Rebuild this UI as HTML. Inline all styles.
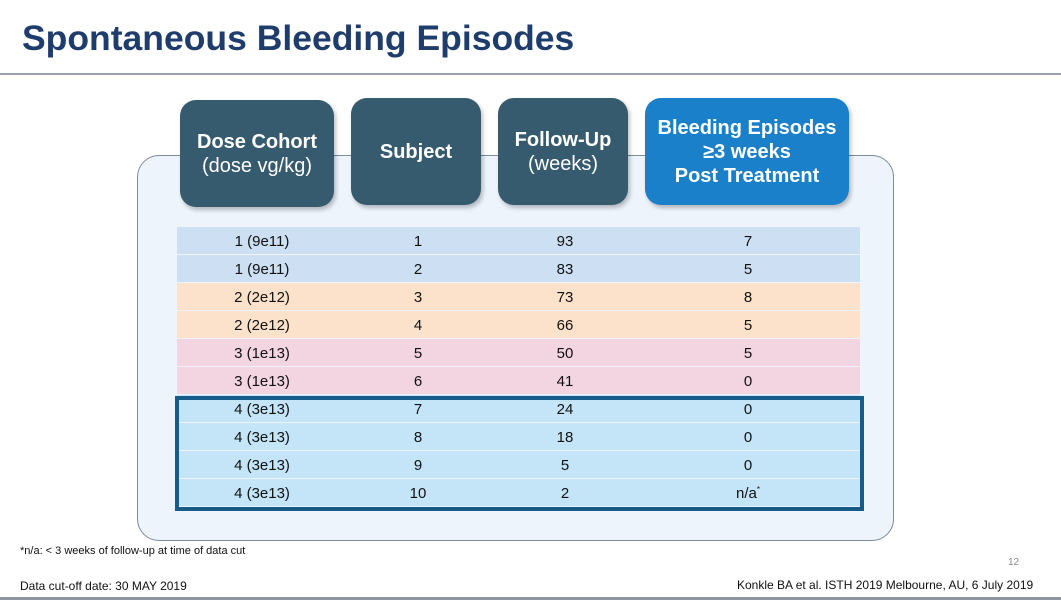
<!DOCTYPE html>
<html><head><meta charset="utf-8"><style>
body{margin:0;width:1061px;height:600px;background:#fff;position:relative;overflow:hidden;font-family:"Liberation Sans",Arial,sans-serif}
.abs{position:absolute}
.hdr{position:absolute;background:#365b6f;color:#fff;border-radius:16px;display:flex;flex-direction:column;justify-content:center;align-items:center;text-align:center;font-size:20px;line-height:24px;box-shadow:2px 3px 4px rgba(0,0,0,.25)}
.row{position:absolute;left:177px;width:683px;height:27px;font-size:15px;color:#111}
.row span{position:absolute;top:6px;transform:translateX(-50%)}
</style></head><body>
<div class="abs" style="left:22px;top:18px;font-size:35.5px;font-weight:bold;color:#1f3d6c">Spontaneous Bleeding Episodes</div>
<div class="abs" style="left:0;top:73px;width:1061px;height:2px;background:#9aa3ad"></div>
<div class="abs" style="left:137px;top:155px;width:755px;height:384px;background:#edf4fc;border:1px solid #7d8c99;border-radius:22px"></div>
<div class="hdr" style="left:180px;top:100px;width:154px;height:107px"><b>Dose Cohort</b><span>(dose vg/kg)</span></div>
<div class="hdr" style="left:351px;top:98px;width:130px;height:107px"><b>Subject</b></div>
<div class="hdr" style="left:498px;top:98px;width:130px;height:107px"><b>Follow-Up</b><span>(weeks)</span></div>
<div class="hdr" style="left:645px;top:98px;width:204px;height:107px;background:#1a80c9;font-weight:bold"><span>Bleeding Episodes</span><span>≥3 weeks</span><span>Post Treatment</span></div>
<div id="rows"></div>
<div class="abs" style="left:175px;top:396px;width:681px;height:107px;border:4px solid #175b89"></div>
<div class="abs" style="left:20px;top:545px;font-size:11px;color:#111">*n/a: &lt; 3 weeks of follow-up at time of data cut</div>
<div class="abs" style="left:1008px;top:557px;font-size:10px;color:#888">12</div>
<div class="abs" style="left:20px;top:579px;font-size:12px;color:#111">Data cut-off date: 30 MAY 2019</div>
<div class="abs" style="left:737px;top:578px;font-size:12px;color:#111">Konkle BA et al. ISTH 2019 Melbourne, AU, 6 July 2019</div>
<div class="abs" style="left:0;top:597px;width:1061px;height:3px;background:#8d949b"></div>
<script>
const cohorts=["1 (9e11)","1 (9e11)","2 (2e12)","2 (2e12)","3 (1e13)","3 (1e13)","4 (3e13)","4 (3e13)","4 (3e13)","4 (3e13)"];
const subjects=["1","2","3","4","5","6","7","8","9","10"];
const followUp=["93","83","73","66","50","41","24","18","5","2"];
const bleeds=["7","5","8","5","5","0","0","0","0","n/a<sup style='font-size:8px'>*</sup>"];
const colors=["#cddff2","#cddff2","#fde2cb","#fde2cb","#f2d5e0","#f2d5e0","#c4e5f8","#c4e5f8","#c4e5f8","#c4e5f8"];
const cont=document.getElementById('rows');
cohorts.forEach((c,i)=>{
 const r=document.createElement('div');
 r.className='row';
 
 
 r.style.top=(227+i*28)+'px';r.style.background=colors[i];
 r.innerHTML=`<span style="left:85px">${c}</span><span style="left:241px">${subjects[i]}</span><span style="left:388px">${followUp[i]}</span><span style="left:571px">${bleeds[i]}</span>`;
 cont.appendChild(r);
});
</script>
</body></html>
